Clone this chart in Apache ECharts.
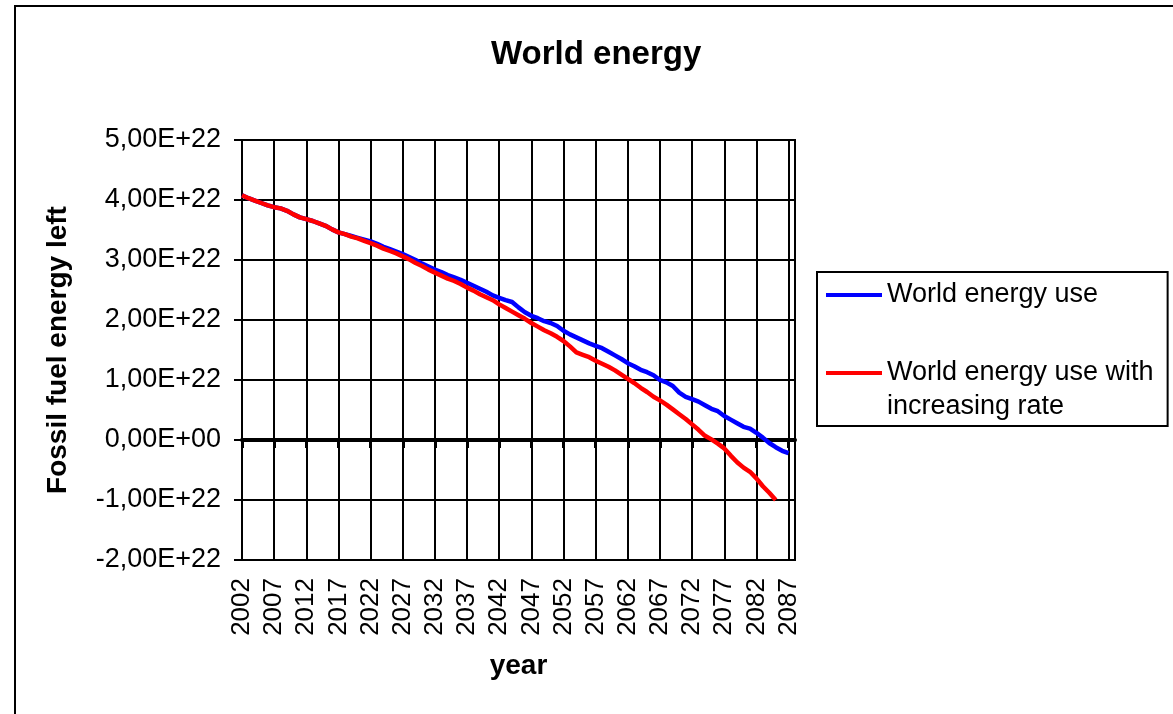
<!DOCTYPE html>
<html>
<head>
<meta charset="utf-8">
<script src="https://cdn.jsdelivr.net/npm/echarts@6/dist/echarts.min.js"></script>
<style>
  html, body { margin: 0; padding: 0; background: #fff; }
  #chart { width: 1173px; height: 714px; }
</style>
</head>
<body>
<div id="chart"></div>
<script>
// years on the category axis
const years = [
  '2002','2003','2004','2005','2006','2007','2008','2009','2010','2011',
  '2012','2013','2014','2015','2016','2017','2018','2019','2020','2021',
  '2022','2023','2024','2025','2026','2027','2028','2029','2030','2031',
  '2032','2033','2034','2035','2036','2037','2038','2039','2040','2041',
  '2042','2043','2044','2045','2046','2047','2048','2049','2050','2051',
  '2052','2053','2054','2055','2056','2057','2058','2059','2060','2061',
  '2062','2063','2064','2065','2066','2067','2068','2069','2070','2071',
  '2072','2073','2074','2075','2076','2077','2078','2079','2080','2081',
  '2082','2083','2084','2085','2086','2087','2088'
];

// fossil fuel energy left, in units of 1E+22
const energyUse = [
  4.08, 4.03, 3.99, 3.95, 3.91, 3.88, 3.86, 3.82, 3.76, 3.71,
  3.68, 3.65, 3.61, 3.57, 3.51, 3.46, 3.43, 3.40, 3.37, 3.34,
  3.31, 3.27, 3.22, 3.18, 3.14, 3.10, 3.05, 3.00, 2.94, 2.89,
  2.84, 2.80, 2.75, 2.71, 2.67, 2.62, 2.57, 2.52, 2.47, 2.41,
  2.37, 2.33, 2.30, 2.21, 2.13, 2.07, 2.03, 1.98, 1.95, 1.90,
  1.82, 1.76, 1.71, 1.66, 1.61, 1.57, 1.53, 1.47, 1.41, 1.35,
  1.28, 1.23, 1.17, 1.13, 1.08, 1.00, 0.96, 0.90, 0.79, 0.72,
  0.68, 0.64, 0.58, 0.52, 0.48, 0.40, 0.34, 0.28, 0.22, 0.19,
  0.12, 0.04, -0.05, -0.12, -0.18, -0.22
];

const energyUseIncreasing = [
  4.08, 4.03, 3.99, 3.95, 3.91, 3.88, 3.86, 3.82, 3.76, 3.71,
  3.68, 3.65, 3.61, 3.57, 3.51, 3.46, 3.43, 3.39, 3.36, 3.32,
  3.28, 3.24, 3.19, 3.15, 3.11, 3.06, 3.01, 2.95, 2.90, 2.84,
  2.79, 2.74, 2.69, 2.65, 2.60, 2.54, 2.49, 2.43, 2.38, 2.33,
  2.26, 2.20, 2.14, 2.08, 2.02, 1.95, 1.89, 1.83, 1.78, 1.72,
  1.65, 1.56, 1.46, 1.42, 1.38, 1.32, 1.27, 1.22, 1.16, 1.09,
  1.02, 0.95, 0.87, 0.80, 0.72, 0.66, 0.59, 0.51, 0.43, 0.35,
  0.26, 0.17, 0.07, 0.01, -0.06, -0.14, -0.26, -0.37, -0.46, -0.53,
  -0.64, -0.77, -0.88, -1.00
];

const blueName = 'World energy use';
const redName = 'World energy use with increasing rate';

const font = 'Liberation Sans, Arial, sans-serif';

const chart = echarts.init(document.getElementById('chart'));

chart.setOption({
  animation: false,
  backgroundColor: '#fff',
  textStyle: { fontFamily: font },
  title: {
    text: 'World energy',
    left: 486,
    top: 33,
    textStyle: { fontFamily: font, fontSize: 33, fontWeight: 'bold', color: '#000' }
  },
  graphic: [
    {
      type: 'rect',
      shape: { x: 15, y: 6, width: 1300, height: 900 },
      style: { fill: 'none', stroke: '#000', lineWidth: 2 },
      silent: true
    }
  ],
  legend: {
    orient: 'vertical',
    left: 817,
    top: 272,
    padding: [6, 14, 2, 9],
    itemGap: 10,
    icon: 'rect',
    itemWidth: 56,
    itemHeight: 4,
    borderColor: '#000',
    borderWidth: 2,
    selectedMode: false,
    data: [blueName, redName],
    formatter: name => (name === redName ? '\nWorld energy use with\nincreasing rate' : name),
    textStyle: { fontFamily: font, fontSize: 27, lineHeight: 34, color: '#000' }
  },
  grid: {
    left: 242,
    right: 378,
    top: 140,
    bottom: 154,
    show: true,
    borderColor: '#000',
    borderWidth: 2,
    containLabel: false
  },
  xAxis: [
    {
      type: 'category',
      data: years,
      boundaryGap: false,
      position: 'bottom',
      axisLine: { onZero: false, lineStyle: { color: '#000', width: 2 } },
      axisTick: { show: false },
      axisLabel: {
        interval: 4,
        rotate: 90,
        margin: 18,
        fontFamily: font,
        fontSize: 26,
        color: '#000'
      },
      splitLine: { show: true, interval: 4, lineStyle: { color: '#000', width: 2 } },
      name: 'year',
      nameLocation: 'middle',
      nameGap: 92,
      nameTextStyle: { fontFamily: font, fontSize: 28, fontWeight: 'bold', color: '#000' }
    },
    {
      // thick zero line with small ticks below it
      type: 'category',
      data: years,
      boundaryGap: false,
      position: 'bottom',
      axisLine: { onZero: true, lineStyle: { color: '#000', width: 4 } },
      axisTick: { show: true, interval: 4, length: 8, lineStyle: { color: '#000', width: 3 } },
      axisLabel: { show: false },
      splitLine: { show: false }
    }
  ],
  yAxis: {
    type: 'value',
    min: -2,
    max: 5,
    interval: 1,
    axisLine: { show: true, lineStyle: { color: '#000', width: 2 } },
    axisTick: { show: true, length: 8, lineStyle: { color: '#000', width: 2 } },
    axisLabel: {
      margin: 21,
      fontFamily: font,
      fontSize: 27,
      color: '#000',
      formatter: v => (v === 0 ? '0,00E+00' : v.toFixed(2).replace('.', ',') + 'E+22')
    },
    splitLine: { show: true, lineStyle: { color: '#000', width: 2 } },
    name: 'Fossil fuel energy left',
    nameLocation: 'middle',
    nameGap: 170,
    nameTextStyle: { fontFamily: font, fontSize: 28, fontWeight: 'bold', color: '#000' }
  },
  series: [
    {
      name: blueName,
      type: 'line',
      xAxisIndex: 0,
      data: energyUse,
      symbol: 'none',
      lineStyle: { color: '#0000ff', width: 4.5 },
      itemStyle: { color: '#0000ff' }
    },
    {
      name: redName,
      type: 'line',
      xAxisIndex: 0,
      data: energyUseIncreasing,
      symbol: 'none',
      lineStyle: { color: '#ff0000', width: 4.5 },
      itemStyle: { color: '#ff0000' }
    }
  ]
});
</script>
</body>
</html>
